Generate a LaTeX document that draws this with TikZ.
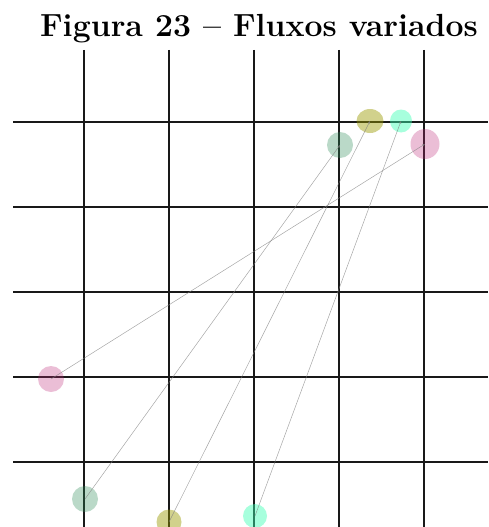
\documentclass[tikz,border=0pt]{standalone}
\usetikzlibrary{shapes.geometric,arrows.meta}
\definecolor{cgreen}{RGB}{46,139,87}
\definecolor{colive}{RGB}{153,153,0}
\definecolor{caqua}{RGB}{60,255,180}
\definecolor{cpink}{RGB}{190,40,120}
\begin{document}
\begin{tikzpicture}[x=1pt,y=-1pt,
  gridline/.style={line width=1.5pt,black!90},
  blob/.style={ellipse,inner sep=0pt,draw=none},
  flow/.style={gray,opacity=0.7,line width=0.5pt,-{Stealth[length=3pt,width=2.4pt]}}]
\useasboundingbox (0,0) rectangle (488,527);
\clip (0,0) rectangle (488,527);
\node[font=\fontsize{32}{35}\selectfont\bfseries,anchor=base] (title) at (259,37) {Figura 23 -- Fluxos variados};
\foreach \x in {84,169,254,339,424} \draw[gridline] (\x,50) -- (\x,527);
\foreach \y in {122,207,292,377,462} \draw[gridline] (13,\y) -- (488,\y);
% blobs
\node[blob,fill=cgreen,fill opacity=0.33,minimum width=26pt,minimum height=26pt] (g1) at (85,499) {};
\node[blob,fill=cgreen,fill opacity=0.33,minimum width=26pt,minimum height=26pt] (g2) at (340,145) {};
\node[blob,fill=colive,fill opacity=0.45,minimum width=25pt,minimum height=25pt] (o1) at (169,522) {};
\node[blob,fill=colive,fill opacity=0.45,minimum width=27pt,minimum height=24pt] (o2) at (370,121) {};
\node[blob,fill=caqua,fill opacity=0.45,minimum width=24pt,minimum height=24pt] (a1) at (255,516) {};
\node[blob,fill=caqua,fill opacity=0.45,minimum width=22pt,minimum height=23pt] (a2) at (401,121) {};
\node[blob,fill=cpink,fill opacity=0.3,minimum width=26pt,minimum height=26pt] (p1) at (51,379) {};
\node[blob,fill=cpink,fill opacity=0.3,minimum width=29pt,minimum height=30pt] (p2) at (425,144) {};
% flows
\draw[flow] (g1.center) -- (g2.center);
\draw[flow] (o1.center) -- (o2.center);
\draw[flow] (a1.center) -- (a2.center);
\draw[flow] (p1.center) -- (p2.center);
\end{tikzpicture}
\end{document}
